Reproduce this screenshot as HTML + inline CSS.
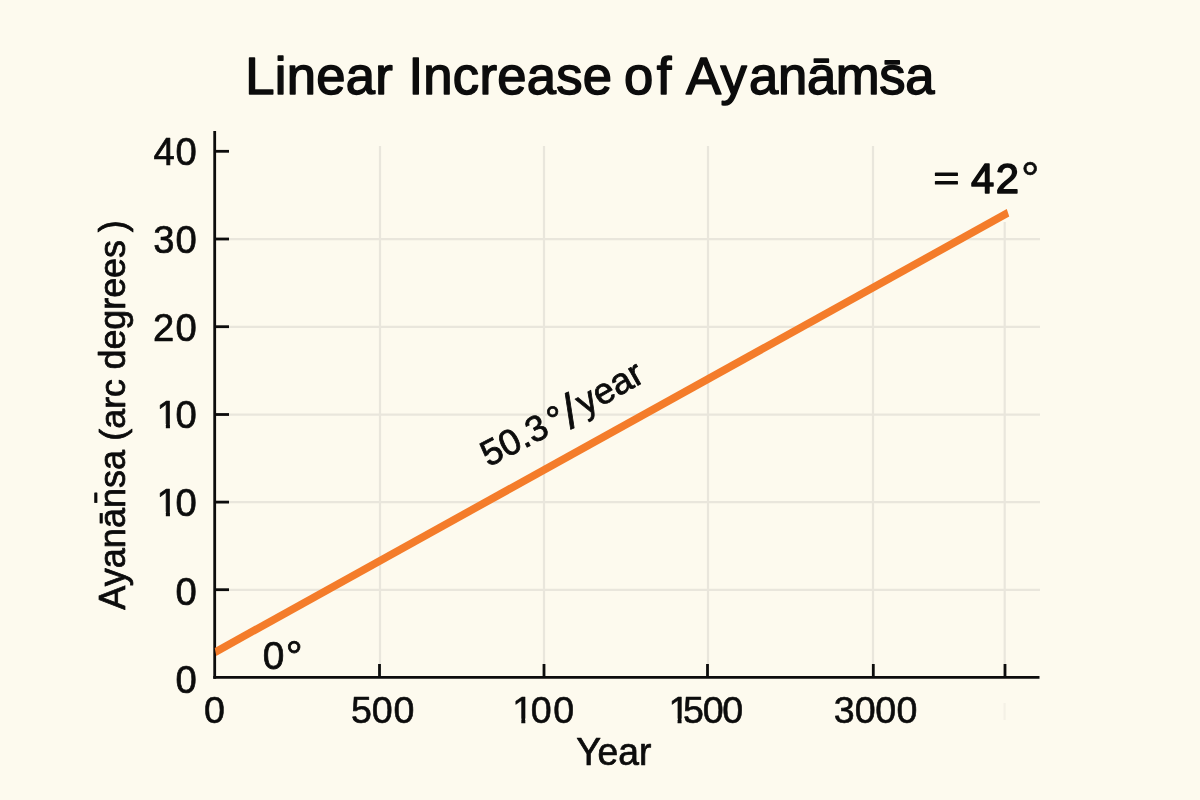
<!DOCTYPE html>
<html lang="en">
<head>
<meta charset="utf-8">
<title>Linear Increase of Ayanāms̄a</title>
<style>
  html, body { margin: 0; padding: 0; background: #fdfaee; }
  body { width: 1200px; height: 800px; overflow: hidden; }
  svg { display: block; }
  text { font-family: "Liberation Sans", "DejaVu Sans", sans-serif; fill: #0c0c0c; stroke: #0c0c0c; stroke-linejoin: round; }
  .title { font-size: 52.6px; stroke-width: 1.5px; }
  .ytick { font-size: 38.2px; stroke-width: 0.7px; }
  .xtick { font-size: 37.6px; stroke-width: 0.6px; }
  .lbl { font-size: 36.5px; stroke-width: 0.75px; }
  .rate text { stroke-width: 0.8px; }
  .ann { font-size: 41.8px; stroke-width: 1.5px; }
  .grid line { stroke: #e9e6dc; stroke-width: 2.2; }
  .axis line { stroke: #0c0c0c; stroke-width: 2.8; }
</style>
</head>
<body>
<svg width="1200" height="800" viewBox="0 0 1200 800">
  <defs>
    <clipPath id="c100" clipPathUnits="userSpaceOnUse"><path clip-rule="evenodd" d="M0 0H1200V800H0Z M513.56 718.39H521.36V724.50H513.56Z M525.28 718.39H532.78V724.50H525.28Z"/></clipPath>
    <clipPath id="c1500" clipPathUnits="userSpaceOnUse"><path clip-rule="evenodd" d="M0 0H1200V800H0Z M669.81 718.39H677.61V724.50H669.81Z M681.53 718.39L684.39 718.39L684.39 718.54L684.66 719.17L684.99 719.77L685.37 720.32L685.79 720.82L686.27 721.28L686.80 721.70L687.38 722.07L688.00 722.39L688.66 722.66L688.66 724.50H681.53Z"/></clipPath>
    <clipPath id="cy10a" clipPathUnits="userSpaceOnUse"><path clip-rule="evenodd" d="M0 0H1200V800H0Z M158.01 424.10H165.86V430.30H158.01Z M169.93 424.10H177.48V430.30H169.93Z"/></clipPath>
    <clipPath id="cy10b" clipPathUnits="userSpaceOnUse"><path clip-rule="evenodd" d="M0 0H1200V800H0Z M158.01 511.80H165.86V518.00H158.01Z M169.93 511.80H177.48V518.00H169.93Z"/></clipPath>
  </defs>
  <rect x="0" y="0" width="1200" height="800" fill="#fdfaee"/>

  <!-- title -->
  <g class="title">
    <text x="245.2" y="94" style="letter-spacing:0.3px">Linear</text>
    <text x="408.5" y="94" style="letter-spacing:0.25px">Increase</text>
    <text x="624" y="94" style="letter-spacing:3.5px">of</text>
    <text y="94"><tspan x="686">A</tspan><tspan x="720.6">y</tspan><tspan x="749" style="letter-spacing:-0.3px">anāms̄a</tspan></text>
  </g>

  <!-- grid -->
  <g class="grid">
    <line x1="380" y1="146" x2="380" y2="677"/>
    <line x1="544" y1="146" x2="544" y2="677"/>
    <line x1="708" y1="146" x2="708" y2="677"/>
    <line x1="873" y1="146" x2="873" y2="677"/>
    <line x1="1004.7" y1="222" x2="1004.7" y2="677"/>
    <line x1="216" y1="239.1" x2="1040" y2="239.1"/>
    <line x1="216" y1="326.8" x2="1040" y2="326.8"/>
    <line x1="216" y1="414.6" x2="1040" y2="414.6"/>
    <line x1="216" y1="502.2" x2="1040" y2="502.2"/>
    <line x1="216" y1="589.8" x2="1040" y2="589.8"/>
    <line x1="1004.6" y1="703" x2="1004.6" y2="720" style="stroke:#f4f1e6"/>
  </g>

  <!-- axes -->
  <g class="axis">
    <line x1="214.7" y1="131" x2="214.7" y2="678.8"/>
    <line x1="213.3" y1="677.4" x2="1039.5" y2="677.4"/>
    <line x1="215" y1="151.3" x2="229" y2="151.3"/>
    <line x1="215" y1="239" x2="229" y2="239"/>
    <line x1="215" y1="326.7" x2="229" y2="326.7"/>
    <line x1="215" y1="414.5" x2="229" y2="414.5"/>
    <line x1="215" y1="502.1" x2="229" y2="502.1"/>
    <line x1="215" y1="589.7" x2="229" y2="589.7"/>
    <line x1="379.5" y1="664" x2="379.5" y2="677"/>
    <line x1="544" y1="664" x2="544" y2="677"/>
    <line x1="707.5" y1="664" x2="707.5" y2="677"/>
    <line x1="873.3" y1="664" x2="873.3" y2="677"/>
    <line x1="1005" y1="664" x2="1005" y2="677"/>
  </g>

  <!-- data line -->
  <polygon points="214.75,647.9 1006.75,209.1 1009.25,216.5 216.25,655.9" fill="#f47c2a"/>

  <!-- y tick labels -->
  <g class="ytick">
    <text x="153.6 175.6" y="165.3">40</text>
    <text x="153.3 175.6" y="253">30</text>
    <text x="152.9 175.6" y="340.6">20</text>
    <text x="156.6 175.6" y="428.3" clip-path="url(#cy10a)">10</text>
    <text x="156.6 175.6" y="516" clip-path="url(#cy10b)">10</text>
    <text x="175.6" y="604.8">0</text>
    <text x="175.6" y="692.7">0</text>
  </g>

  <!-- x tick labels -->
  <g class="xtick">
    <text x="203.9" y="722.5">0</text>
    <text x="351.0 371.8 393.5" y="722.5">500</text>
    <text x="512.2 530.8 553.3" y="722.5" clip-path="url(#c100)">100</text>
    <text x="668.45 682.9 702.7 722.2" y="722.5" clip-path="url(#c1500)">1500</text>
    <text x="833.8 854.7 875.3 896.4" y="722.5">3000</text>
  </g>

  <!-- axis labels -->
  <text class="lbl" transform="translate(576.2 764.7) scale(0.955 1)" style="font-size:39px">Year</text>
  <text class="lbl" transform="translate(124.6 0) rotate(-90)"><tspan x="-609.7" style="font-size:36.1px">Ayanān̄sa </tspan><tspan x="-440.7" style="font-size:35.8px">(arc </tspan><tspan x="-369.5" style="font-size:36px;letter-spacing:-0.1px">degrees</tspan><tspan x="-232.3" style="font-size:36px">)</tspan></text>

  <!-- annotations -->
  <text class="ann" transform="translate(933.6 190.0) scale(1.304 1)" style="font-size:34px;stroke-width:1.2px">=</text>
  <text class="ann" y="192.9"><tspan x="970.9">4</tspan><tspan x="995.8">2</tspan><tspan x="1021.1" dy="2.4" style="font-size:46px;stroke-width:0.6px">°</tspan></text>
  <text class="lbl" y="668.8" style="font-size:38.8px"><tspan x="262.76">0</tspan><tspan x="285.8" dy="2.1" style="font-size:42px">°</tspan></text>
  <g class="lbl rate">
    <text transform="translate(488.6 467.2) rotate(-27.4)" style="font-size:36.2px">50.3</text>
    <text transform="translate(555.6 434) rotate(-27)" style="font-size:38px">°</text>
    <text transform="translate(570.4 428.9) rotate(-24)" style="font-size:48px">/</text>
    <text transform="translate(584.6 415.9) rotate(-29.6)" style="font-size:36.5px">year</text>
  </g>
</svg>
</body>
</html>
